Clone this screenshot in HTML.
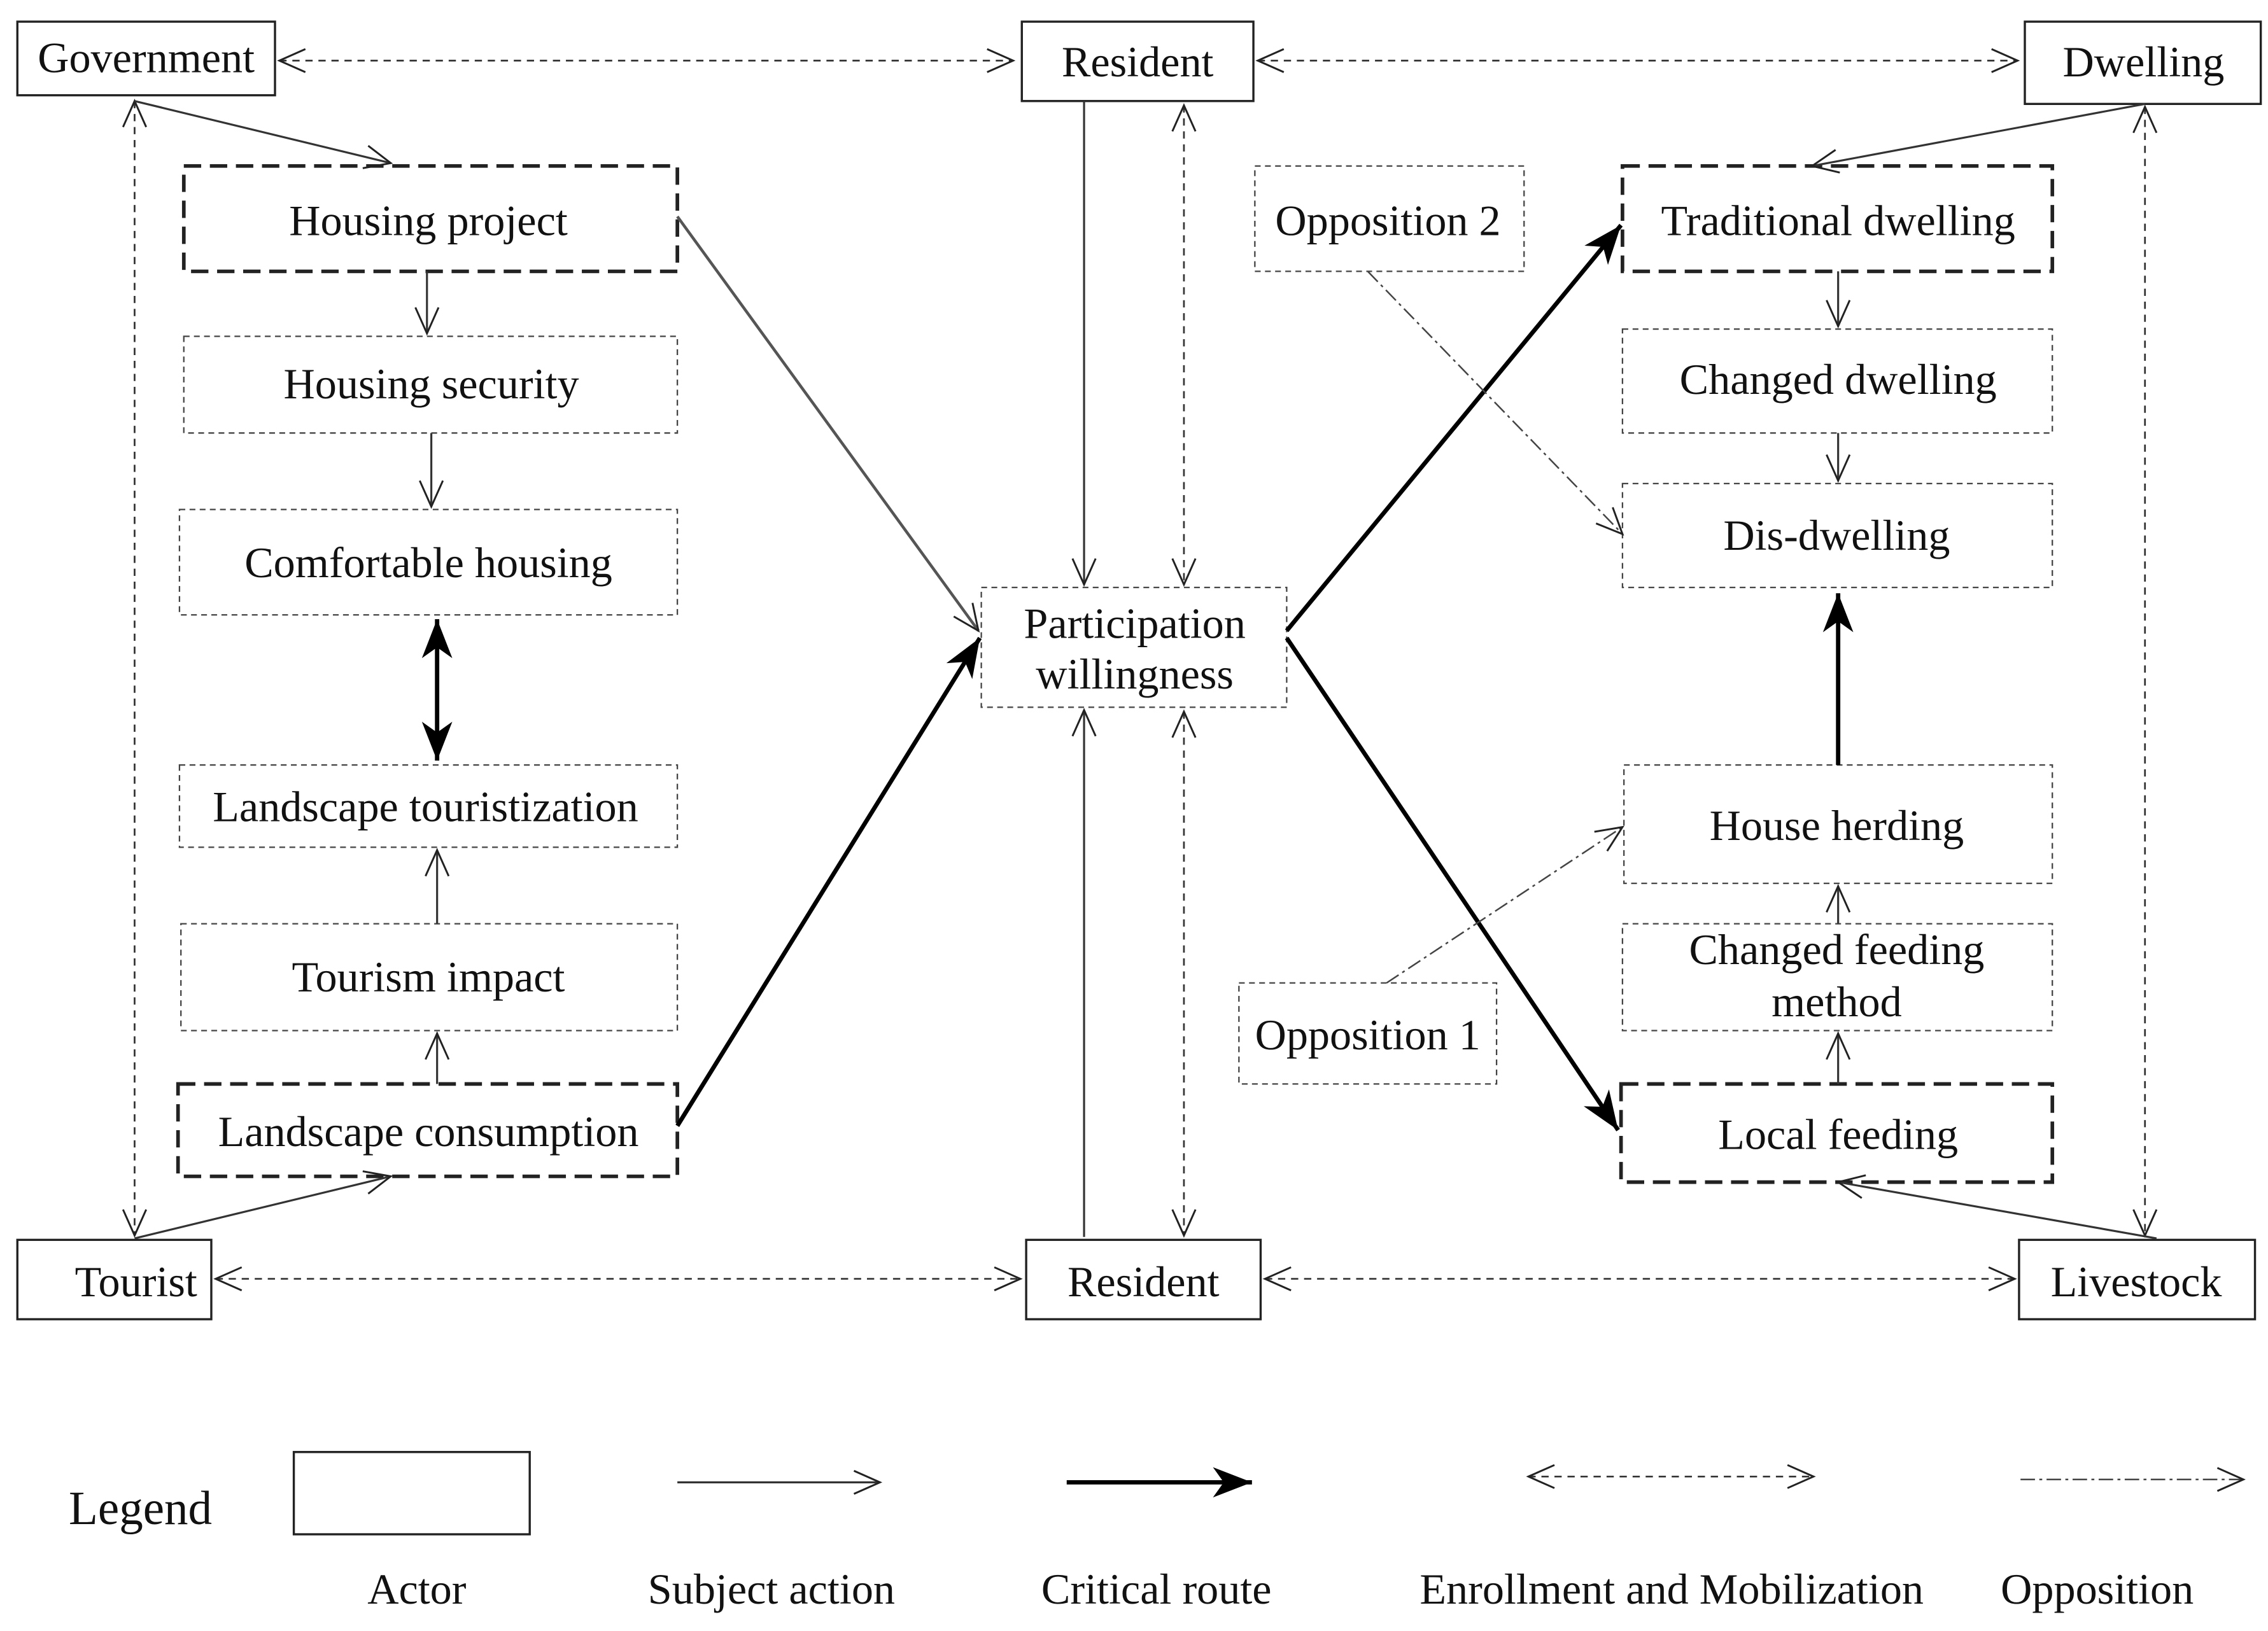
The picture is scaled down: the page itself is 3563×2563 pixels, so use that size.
<!DOCTYPE html>
<html><head><meta charset="utf-8"><style>
html,body{margin:0;padding:0;background:#fff;}
svg{display:block;}
text{font-family:"Liberation Serif",serif;font-size:30px;fill:#111;text-anchor:middle;}
</style></head><body>
<svg width="3563" height="2563" viewBox="0 0 1567 1130" preserveAspectRatio="none" xmlns="http://www.w3.org/2000/svg">
<defs>
<marker id="v" markerUnits="userSpaceOnUse" markerWidth="30" markerHeight="30" refX="20" refY="10" orient="auto-start-reverse" viewBox="0 0 30 20">
<path d="M2,2 L20,10 L2,18" fill="none" stroke="#222" stroke-width="1.3"/></marker>
<marker id="f" markerUnits="userSpaceOnUse" markerWidth="30" markerHeight="30" refX="18" refY="8" orient="auto-start-reverse" viewBox="0 0 20 16">
<path d="M0,1 L18,8 L0,15 L5,8 z" fill="#000"/></marker>
</defs>
<rect width="1567" height="1130" fill="#fff"/>
<g fill="none" stroke="#222" stroke-width="1.5">
<rect x="12" y="15" width="178" height="51"/>
<rect x="706" y="15" width="160" height="55"/>
<rect x="1399" y="15" width="163" height="57"/>
<rect x="12" y="859" width="134" height="55"/>
<rect x="709" y="859" width="162" height="55"/>
<rect x="1395" y="859" width="163" height="55"/>
<rect x="203" y="1006" width="163" height="57"/>
</g>
<g fill="none" stroke="#222" stroke-width="2.5" stroke-dasharray="12,6">
<rect x="127" y="115" width="341" height="73"/>
<rect x="123" y="751" width="345" height="64"/>
<rect x="1121" y="115" width="297" height="73"/>
<rect x="1120" y="751" width="298" height="68"/>
</g>
<g fill="none" stroke="#444" stroke-width="1" stroke-dasharray="4,3">
<rect x="127" y="233" width="341" height="67"/>
<rect x="124" y="353" width="344" height="73"/>
<rect x="124" y="530" width="344" height="57"/>
<rect x="125" y="640" width="343" height="74"/>
<rect x="678" y="407" width="211" height="83"/>
<rect x="867" y="115" width="186" height="73"/>
<rect x="1121" y="228" width="297" height="72"/>
<rect x="1121" y="335" width="297" height="72"/>
<rect x="1122" y="530" width="296" height="82"/>
<rect x="1121" y="640" width="297" height="74"/>
<rect x="856" y="681" width="178" height="70"/>
</g>
<g fill="none" stroke="#333" stroke-width="1.2" stroke-dasharray="5,4" marker-start="url(#v)" marker-end="url(#v)">
<line x1="193" y1="42" x2="700" y2="42"/>
<line x1="869" y1="42" x2="1394" y2="42"/>
<line x1="149" y1="886" x2="705" y2="886"/>
<line x1="874" y1="886" x2="1392" y2="886"/>
<line x1="93" y1="70" x2="93" y2="856"/>
<line x1="1482" y1="74" x2="1482" y2="856"/>
<line x1="818" y1="73" x2="818" y2="405"/>
<line x1="818" y1="493" x2="818" y2="856"/>
<line x1="1056" y1="1023" x2="1253" y2="1023"/>
</g>
<g fill="none" stroke="#333" stroke-width="1.4" marker-end="url(#v)">
<line x1="93" y1="70" x2="270" y2="113"/>
<line x1="93" y1="858" x2="270" y2="815"/>
<line x1="1482" y1="72" x2="1252" y2="115"/>
<line x1="1490" y1="858" x2="1270" y2="819"/>
<line x1="295" y1="188" x2="295" y2="231"/>
<line x1="298" y1="300" x2="298" y2="351"/>
<line x1="302" y1="640" x2="302" y2="589"/>
<line x1="302" y1="751" x2="302" y2="716"/>
<line x1="749" y1="70" x2="749" y2="405"/>
<line x1="749" y1="857" x2="749" y2="492"/>
<line x1="1270" y1="188" x2="1270" y2="226"/>
<line x1="1270" y1="300" x2="1270" y2="333"/>
<line x1="1270" y1="640" x2="1270" y2="614"/>
<line x1="1270" y1="751" x2="1270" y2="716"/>
<line x1="468" y1="1027" x2="608" y2="1027"/>
<line x1="468" y1="150" x2="676" y2="437" stroke="#555" stroke-width="2"/>
</g>
<g fill="none" stroke="#000" stroke-width="3" marker-end="url(#f)">
<line x1="302" y1="429" x2="302" y2="527" marker-start="url(#f)"/>
<line x1="468" y1="780" x2="677" y2="442"/>
<line x1="889" y1="437" x2="1120" y2="156"/>
<line x1="889" y1="442" x2="1118" y2="783"/>
<line x1="1270" y1="530" x2="1270" y2="411"/>
<line x1="737" y1="1027" x2="865" y2="1027"/>
</g>
<g fill="none" stroke="#444" stroke-width="1.1" stroke-dasharray="10,3,2,3" marker-end="url(#v)">
<line x1="945" y1="188" x2="1121" y2="370"/>
<line x1="958" y1="681" x2="1121" y2="573"/>
<line x1="1396" y1="1025" x2="1550" y2="1025"/>
</g>
<text x="101" y="50">Government</text>
<text x="786" y="53">Resident</text>
<text x="1481" y="53">Dwelling</text>
<text x="94" y="898">Tourist</text>
<text x="790" y="898">Resident</text>
<text x="1476" y="898">Livestock</text>
<text x="296" y="163">Housing project</text>
<text x="298" y="276">Housing security</text>
<text x="296" y="400">Comfortable housing</text>
<text x="294" y="569">Landscape touristization</text>
<text x="296" y="687">Tourism impact</text>
<text x="296" y="794">Landscape consumption</text>
<text x="784" y="442">Participation</text>
<text x="784" y="477">willingness</text>
<text x="959" y="163">Opposition 2</text>
<text x="1270" y="163">Traditional dwelling</text>
<text x="1270" y="273">Changed dwelling</text>
<text x="1269" y="381">Dis-dwelling</text>
<text x="1269" y="582">House herding</text>
<text x="1269" y="668">Changed feeding</text>
<text x="1269" y="704">method</text>
<text x="945" y="727">Opposition 1</text>
<text x="1270" y="796">Local feeding</text>
<text x="97" y="1056" style="font-size:33px">Legend</text>
<text x="288" y="1111">Actor</text>
<text x="533" y="1111">Subject action</text>
<text x="799" y="1111">Critical route</text>
<text x="1155" y="1111">Enrollment and Mobilization</text>
<text x="1449" y="1111">Opposition</text>
</svg>
</body></html>
